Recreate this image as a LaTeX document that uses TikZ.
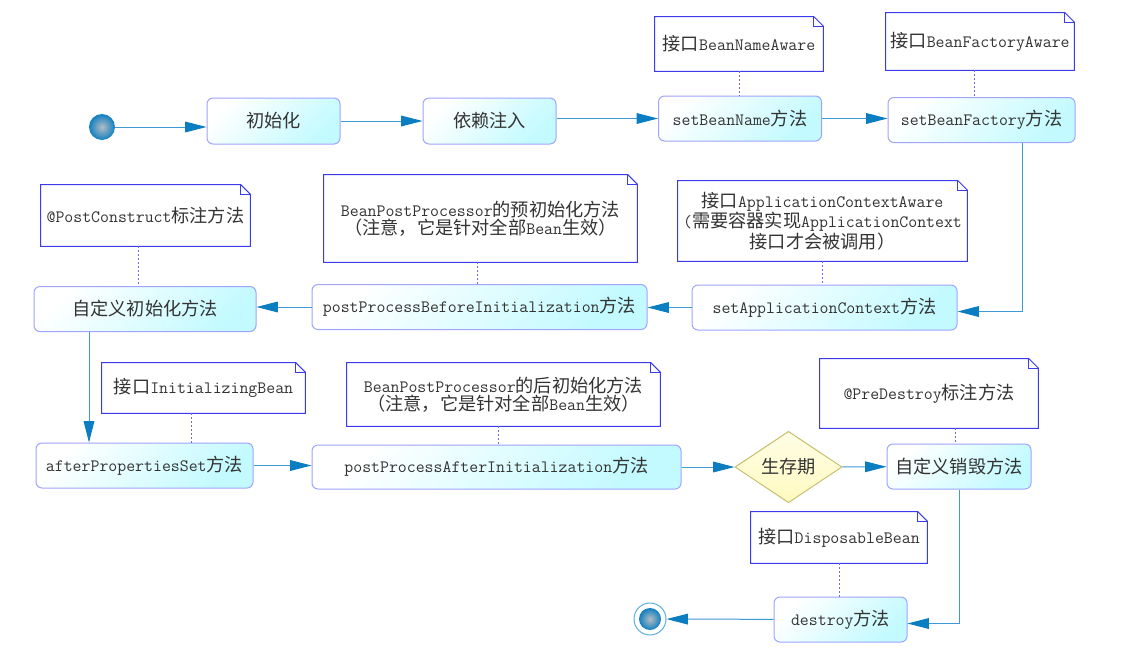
\documentclass[tikz,border=0pt]{standalone}
\usepackage{fontspec}
\newfontfamily\cjkfont{Noto Sans CJK SC}[Scale=1.05]
\usetikzlibrary{arrows.meta,shapes.geometric,calc}
\newcommand\zh[1]{{\cjkfont #1}}
\newcommand\notefold[1]{%
  \draw[noteline] (#1.north west) -- ([xshift=-7pt]#1.north east) -- ([yshift=-7pt]#1.north east) -- (#1.south east) -- (#1.south west) -- cycle;
  \draw[noteline] ([xshift=-7pt]#1.north east) |- ([yshift=-7pt]#1.north east);}
\definecolor{txt}{HTML}{333333}
\definecolor{boxline}{HTML}{A0A4FF}
\definecolor{boxfill}{HTML}{C2FAFF}
\definecolor{noteblue}{HTML}{3A3AEE}
\definecolor{dotc}{HTML}{6A6AEE}
\definecolor{arrline}{HTML}{3E9AD2}
\definecolor{arrhead}{HTML}{0B7DC1}
\definecolor{diafill}{HTML}{FFFAC0}
\definecolor{dialine}{HTML}{C8C070}
\definecolor{ballin}{HTML}{B4BCC4}
\definecolor{ballout}{HTML}{1080C0}
\definecolor{endring}{HTML}{5AB0E0}
\tikzset{
  every node/.style={font=\fontsize{13}{13.5}\selectfont\ttfamily, text=txt},
  wh/.style 2 args={minimum width=#1*0.75pt, minimum height=#2*0.75pt, inner sep=0pt},
  box/.style={draw=boxline, line width=0.75pt, rounded corners=4.5pt, top color=white, bottom color=boxfill, shading angle=45, align=center},
  note/.style={fill=white, align=center},
  noteline/.style={draw=noteblue, line width=0.75pt},
  dotline/.style={draw=dotc, line width=0.75pt, dash pattern=on 1.5pt off 1.5pt},
  arr/.style={draw=arrline, line width=0.75pt, -{Triangle[length=16pt,width=8pt,color=arrhead]}},
  diam/.style={diamond, draw=dialine, line width=0.75pt, top color=white!60!diafill, bottom color=diafill},
  ball/.style={circle, inner color=ballin, outer color=ballout, inner sep=0pt}
}
\begin{document}
\begin{tikzpicture}[x=0.75pt,y=-0.75pt]
\useasboundingbox[fill=white] (0,0) rectangle (1126,661);

% start
\node[ball, minimum size=26*0.75pt] (start) at (102,127) {};

% row 1
\node[box, wh={133}{46}] (init) at (273.5,121) {\zh{初始化}};
\node[box, wh={133}{46}] (dep) at (489.5,121) {\zh{依赖注入}};
\node[box, wh={163}{45}] (sbn) at (740,118.5) {setBeanName\zh{方法}};
\node[box, wh={187}{45}] (sbf) at (981.5,120) {setBeanFactory\zh{方法}};
\node[note, wh={168}{54}] (nBN) at (739,44) {\zh{接口}BeanNameAware};
\node[note, wh={188}{57}] (nBF) at (980,41.5) {\zh{接口}BeanFactoryAware};

% row 2
\node[box, wh={265}{45}] (sac) at (824.5,307.5) {setApplicationContext\zh{方法}};
\node[box, wh={335}{45}] (ppb) at (479.5,307) {postProcessBeforeInitialization\zh{方法}};
\node[box, wh={222}{45}] (cinit) at (145,309) {\zh{自定义初始化方法}};
\node[note, wh={289}{80}] (nAC) at (822.5,221) {\zh{接口}ApplicationContextAware\\(\zh{需要容器实现}ApplicationContext\\\zh{接口才会被调用）}};
\node[note, wh={313}{87}] (nPB) at (480.5,218.5) {BeanPostProcessor\zh{的预初始化方法}\\\zh{（注意，它是针对全部}Bean\zh{生效）}};
\node[note, wh={209}{61}] (nPC) at (145.5,215.5) {@PostConstruct\zh{标注方法}};

% row 3
\node[box, wh={217}{45}] (aps) at (144.5,465.5) {afterPropertiesSet\zh{方法}};
\node[box, wh={369}{44}] (ppa) at (496.5,467) {postProcessAfterInitialization\zh{方法}};
\node[diam, wh={107}{66}] (life) at (788.5,467) {\zh{生存期}};
\node[box, wh={144}{45}] (cdes) at (959,466.5) {\zh{自定义销毁方法}};
\node[note, wh={203}{50}] (nIB) at (203.5,388) {\zh{接口}InitializingBean};
\node[note, wh={313}{63}] (nPA) at (503.5,394.5) {BeanPostProcessor\zh{的后初始化方法}\\\zh{（注意，它是针对全部}Bean\zh{生效）}};
\node[note, wh={218}{69}] (nPD) at (929,393.5) {@PreDestroy\zh{标注方法}};

% row 4
\node[box, wh={133}{45}] (dest) at (840.5,619.5) {destroy\zh{方法}};
\node[note, wh={176}{51}] (nDB) at (839,537.5) {\zh{接口}DisposableBean};
\node[circle, draw=endring, line width=0.75pt, fill=white, minimum size=32*0.75pt, inner sep=0pt] (end) at (650,619) {};
\node[ball, minimum size=22*0.75pt] (endin) at (end.center) {};

% note outlines
\foreach \n in {nBN,nBF,nAC,nPB,nPC,nIB,nPA,nPD,nDB} {\notefold{\n}}

% dotted links
\draw[dotline] (nBN.south) -- (nBN.south |- sbn.north);
\draw[dotline] ([xshift=-4.5pt]nBF.south) -- ([xshift=-4.5pt]nBF.south |- sbf.north);
\draw[dotline] (nAC.south) -- (nAC.south |- sac.north);
\draw[dotline] ([xshift=-2.5pt]nPB.south) -- ([xshift=-2.5pt]nPB.south |- ppb.north);
\draw[dotline] ([xshift=-5.5pt]nPC.south) -- ([xshift=-5.5pt]nPC.south |- cinit.north);
\draw[dotline] ([xshift=-9pt]nIB.south) -- ([xshift=-9pt]nIB.south |- aps.north);
\draw[dotline] ([xshift=-4pt]nPA.south) -- ([xshift=-4pt]nPA.south |- ppa.north);
\draw[dotline] ([xshift=20pt]nPD.south) -- ([xshift=20pt]nPD.south |- cdes.north);
\draw[dotline] (nDB.south) -- (nDB.south |- dest.north);

% flow
\draw[arr] (start) -- (start -| init.west);
\draw[arr] (init) -- (dep);
\draw[arr] (dep.east |- sbn) -- (sbn);
\draw[arr] (sbn) -- (sbn -| sbf.west);
\draw[arr] ([xshift=30.4pt]sbf.south) |- ([yshift=-3pt]sac.east);
\draw[arr] (sac) -- (sac -| ppb.east);
\draw[arr] (ppb) -- (ppb -| cinit.east);
\draw[arr] ([xshift=-42pt]cinit.south) -- ([xshift=-42pt]cinit.south |- aps.north);
\draw[arr] (aps) -- (aps -| ppa.west);
\draw[arr] (ppa) -- (life);
\draw[arr] (life) -- (cdes);
\draw[arr] (cdes.south) |- ([yshift=-3pt]dest.east);
\draw[arr] (dest) -- (end);
\end{tikzpicture}
\end{document}
